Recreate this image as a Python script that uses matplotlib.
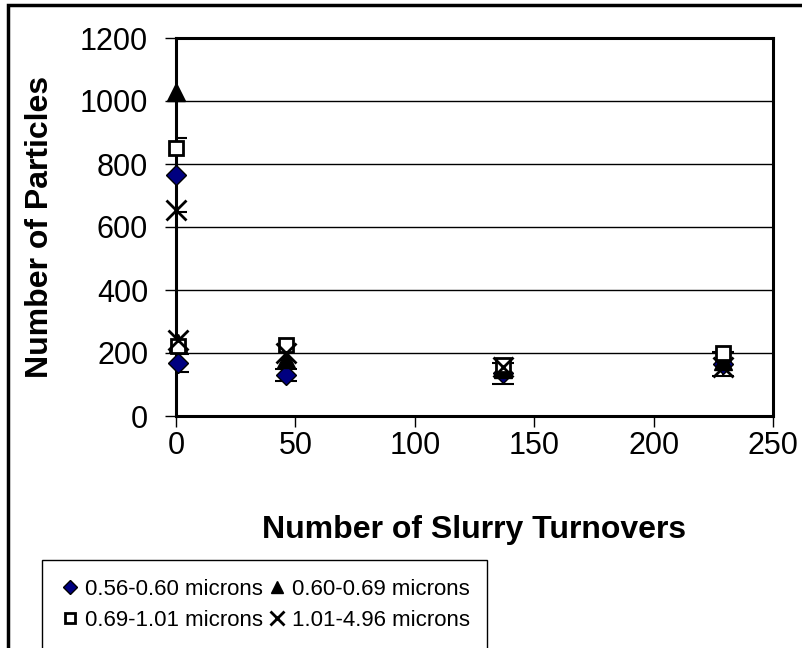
import matplotlib.pyplot as plt
from matplotlib.patches import Rectangle

plt.rcParams['font.family'] = ['Liberation Sans', 'DejaVu Sans']

# slurry turnovers
turns = [0, 1, 46, 137, 229]
labels = ['0.56-0.60 microns', '0.60-0.69 microns', '0.69-1.01 microns', '1.01-4.96 microns']
p056 = [765, 168, 130, 135, 165]
p060 = [1030, 232, 180, 148, 176]
p069 = [850, 222, 225, 162, 200]
p101 = [655, 240, 200, 157, 155]
err056 = [118, 28, 19, 33, 38]

fig = plt.figure(figsize=(8.03, 6.48), dpi=100)
ax = fig.add_axes([176/803, 1-416/648, 597/803, 378/648])

ax.errorbar(turns, p056, yerr=err056, fmt='none', ecolor='black', elinewidth=1.5, capsize=8, capthick=1.5, zorder=3)
h1, = ax.plot(turns, p056, 'D', color='#000080', mec='black', mew=1, ms=10, label=labels[0], zorder=4, clip_on=False)
h2, = ax.plot(turns, p060, '^', color='black', ms=13, label=labels[1], zorder=4, clip_on=False)
h3, = ax.plot(turns, p069, 's', mfc='white', mec='black', mew=2, ms=10, label=labels[2], zorder=5, clip_on=False)
h4, = ax.plot(turns, p101, 'x', color='black', mew=2, ms=14, label=labels[3], zorder=5, clip_on=False)

ax.set_xlim(0, 250)
ax.set_ylim(0, 1200)
ax.set_xticks(range(0, 251, 50))
ax.set_yticks(range(0, 1201, 200))
ax.yaxis.grid(True, color='black', lw=1)
ax.set_axisbelow(True)
for s in ax.spines.values():
    s.set_linewidth(2.2)
ax.tick_params(labelsize=22, length=8, width=1, direction='out')
ax.tick_params(axis='x', pad=3)
ax.tick_params(axis='y', pad=12)

ax.set_xlabel('Number of Slurry Turnovers', fontsize=23, fontweight='bold', labelpad=39)
ax.set_ylabel('Number of Particles', fontsize=23, fontweight='bold', labelpad=18)

# legend is filled column by column, so order handles to read row by row
fig.legend([h1, h3, h2, h4], [labels[0], labels[2], labels[1], labels[3]],
           loc='upper left', bbox_to_anchor=(42/803, 1-560/648), ncol=2, fontsize=16,
           frameon=False, markerscale=0.7, handlelength=0.8, handletextpad=0.3,
           borderpad=0.85, borderaxespad=0, columnspacing=0.2, labelspacing=0.45)
fig.patches.append(Rectangle((42/803, -0.1), 445/803, 1-560/648+0.1, transform=fig.transFigure,
                             fill=False, edgecolor='black', lw=1))

fig.patches.append(Rectangle((8/803, -0.1), 1.1, 1-5/648+0.1, transform=fig.transFigure,
                             fill=False, edgecolor='black', lw=2.5))

fig.savefig('out.png', dpi=100)
